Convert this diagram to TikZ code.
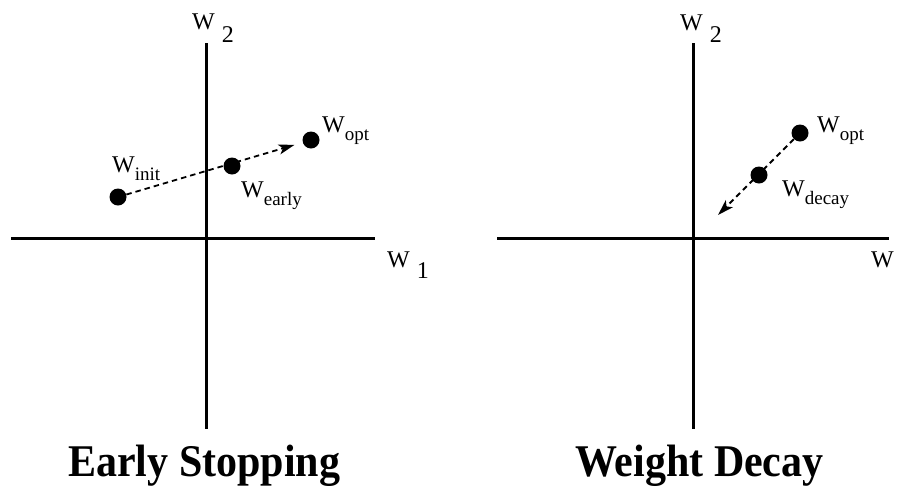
\documentclass[tikz,border=0pt]{standalone}
\usepackage{fontspec}
\setmainfont{Liberation Serif}
\usetikzlibrary{arrows.meta}
\newcommand\lsub[1]{\raisebox{-8pt}{\fontsize{19}{19}\selectfont #1}}
\begin{document}
\begin{tikzpicture}[x=1pt,y=-1pt,
  axis/.style={line width=3pt},
  dot/.style={circle,fill=black,inner sep=0pt,minimum size=17pt},
  move/.style={dash pattern=on 5.5pt off 4pt, line width=1.8pt, -{Stealth[length=16pt,width=10pt,inset=4pt]}},
  lbl/.style={anchor=base west, inner sep=0pt, font=\fontsize{24}{24}\selectfont},
  ttl/.style={anchor=base west, inner sep=0pt, font=\fontsize{42}{42}\selectfont\bfseries}]
\useasboundingbox (0,0) rectangle (908,488);
% left plot axes
\coordinate (L1) at (11,238); \coordinate (L2) at (375,238);
\coordinate (L3) at (206,43); \coordinate (L4) at (206,429);
\draw[axis] (L1) -- (L2);
\draw[axis] (L3) -- (L4);
% right plot axes
\coordinate (R1) at (497,238); \coordinate (R2) at (889,238);
\coordinate (R3) at (693,43); \coordinate (R4) at (693,429);
\draw[axis] (R1) -- (R2);
\draw[axis] (R3) -- (R4);
% axis labels
\node[lbl] (w2L) at (192,29.5) {W\hspace{7pt}\raisebox{-12.5pt}{2}};
\node[lbl] (w1L) at (387,267) {W\hspace{7pt}\raisebox{-11pt}{1}};
\node[lbl] (w2R) at (680,30) {W\hspace{7pt}\raisebox{-12.5pt}{2}};
\node[lbl] (wR) at (871,267) {W};
% left dots
\node[dot] (init) at (118,197) {};
\node[dot] (early) at (232,166) {};
\node[dot] (opt) at (311,140) {};
\draw[move, shorten >=8.5pt] (init) -- (opt);
\node[lbl] (linit) at (112,172) {W\lsub{init}};
\node[lbl] (learly) at (241,197) {W\lsub{early}};
\node[lbl] (lopt) at (322,132) {W\lsub{opt}};
% right dots
\node[dot] (optR) at (800,133) {};
\node[dot] (decay) at (759,175) {};
\coordinate (tip) at (718,215);
\draw[move] (optR) -- (tip);
\node[lbl] (loptR) at (817,132) {W\lsub{opt}};
\node[lbl] (ldecay) at (782,196) {W\lsub{decay}};
% titles
\node[ttl] (t1) at (68,476) {\scalebox{1}[1.08]{Early Stopping}};
\node[ttl] (t2) at (575,476) {\scalebox{1}[1.08]{Weight Decay}};
\end{tikzpicture}
\end{document}
